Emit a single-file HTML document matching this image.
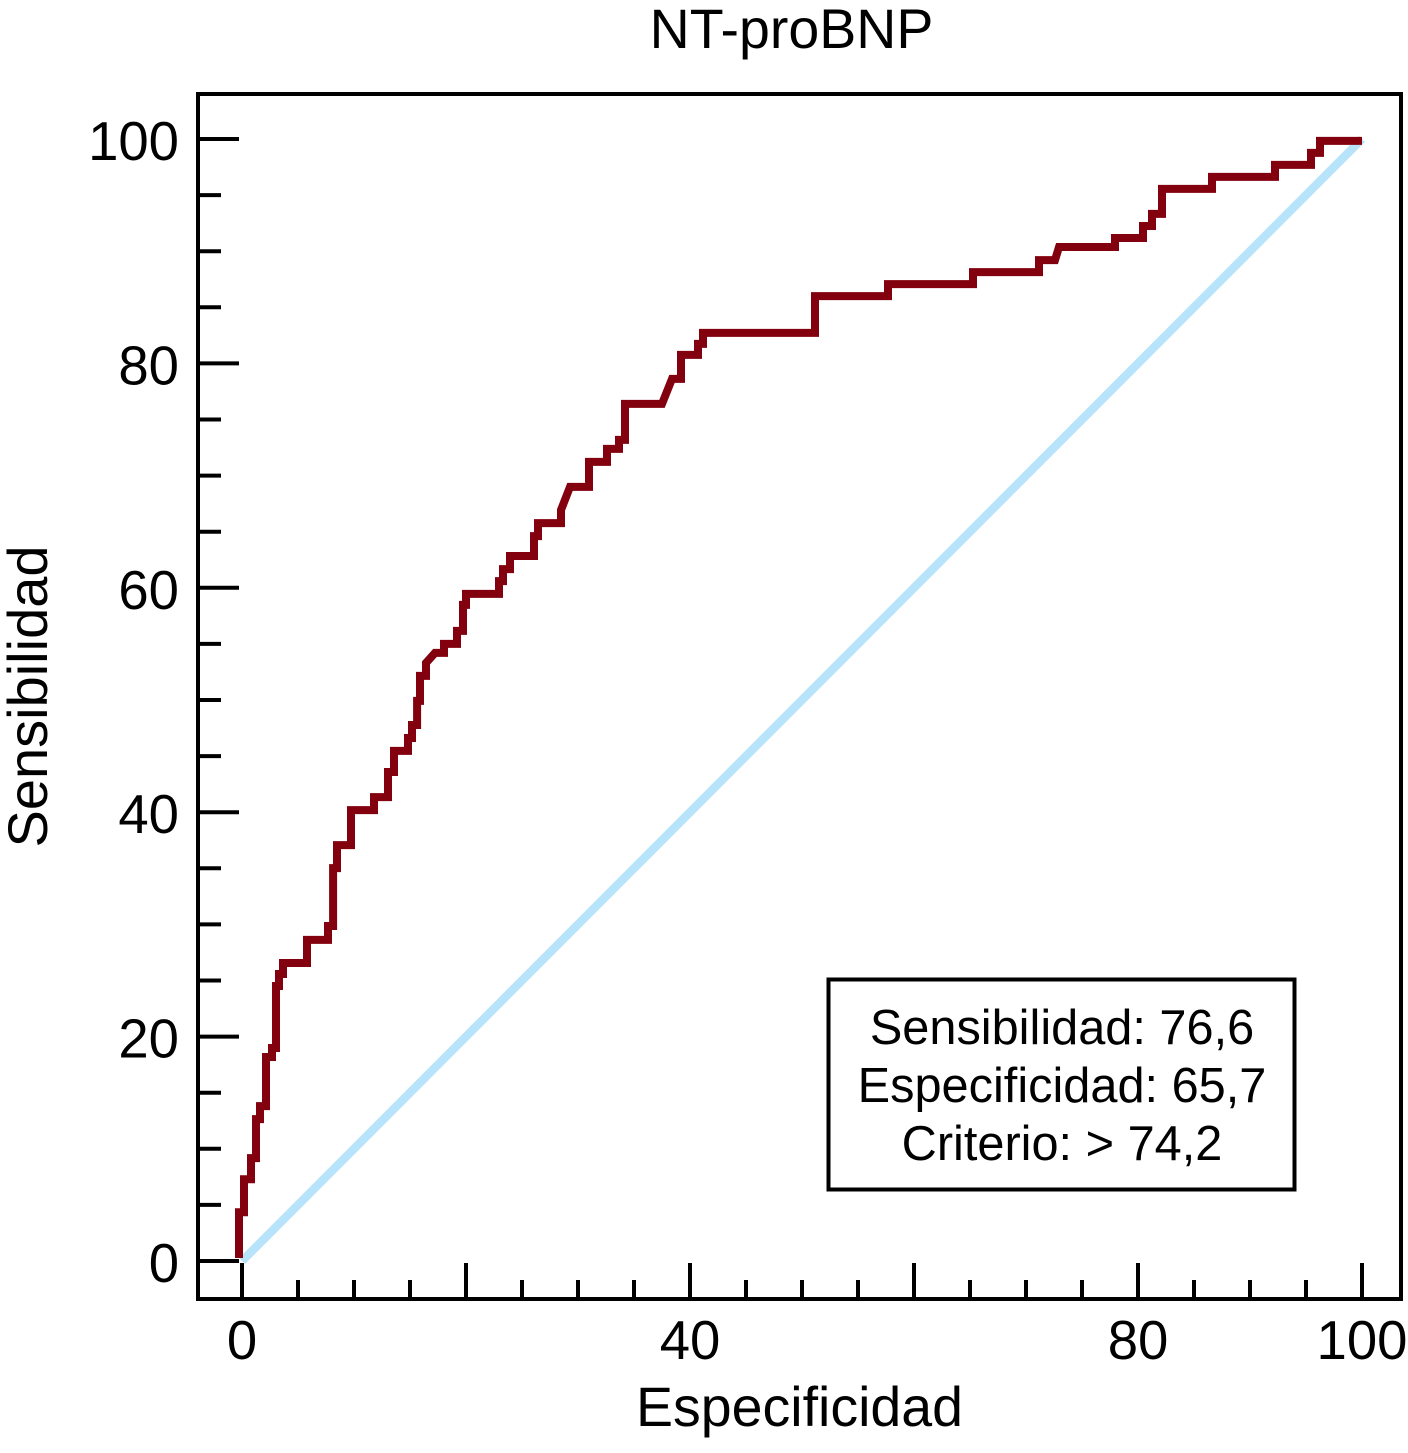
<!DOCTYPE html>
<html lang="es">
<head>
<meta charset="utf-8">
<title>NT-proBNP</title>
<style>
html,body{margin:0;padding:0;background:#fff;width:1408px;height:1453px;overflow:hidden}
svg{display:block}
text{font-family:"Liberation Sans",Arial,sans-serif;fill:#000}
</style>
</head>
<body>
<svg id="chart" xmlns="http://www.w3.org/2000/svg" width="1408" height="1453" viewBox="0 0 1408 1453">
  <text x="791.5" y="48" font-size="55.5" text-anchor="middle">NT-proBNP</text>
  <text x="799.5" y="1426" font-size="55.5" text-anchor="middle">Especificidad</text>
  <text transform="translate(47 696.5) rotate(-90)" font-size="56" text-anchor="middle">Sensibilidad</text>
  <g id="ticks"></g>
  <g id="tick-labels"></g>
  <polyline id="reference-line" fill="none" stroke="#b8e4fb" stroke-width="8.5"></polyline>
  <polyline id="roc-line" fill="none" stroke="#83000f" stroke-width="8" stroke-linejoin="miter" stroke-miterlimit="3"></polyline>
  <rect x="198" y="94" width="1203" height="1205" fill="none" stroke="#000" stroke-width="4"></rect>
  <g>
    <rect x="828.5" y="979.5" width="466" height="210" fill="#fff" stroke="#000" stroke-width="4"></rect>
    <text x="1062" y="1044" font-size="48.7" text-anchor="middle">Sensibilidad: 76,6</text>
    <text x="1062" y="1102" font-size="48.7" text-anchor="middle">Especificidad: 65,7</text>
    <text x="1062" y="1160" font-size="48.7" text-anchor="middle">Criterio: &gt; 74,2</text>
  </g>
</svg>
<script>
const specificity = [-0.27,-0.27,0.18,0.18,0.80,0.80,1.25,1.25,1.61,1.61,2.14,2.14,2.68,2.68,3.04,3.04,3.30,3.30,3.66,3.66,5.80,5.80,7.68,7.68,8.13,8.13,8.48,8.48,9.73,9.73,11.79,11.79,13.04,13.04,13.57,13.57,14.82,14.82,15.18,15.18,15.63,15.63,15.89,15.89,16.43,16.43,17.23,18.04,18.04,19.20,19.20,19.73,19.73,20.00,20.00,22.95,22.95,23.30,23.30,23.93,23.93,26.07,26.07,26.43,26.43,28.48,28.48,29.29,30.98,30.98,32.59,32.59,33.66,33.66,34.20,34.20,37.50,38.39,39.20,39.20,40.71,40.71,41.16,41.16,51.16,51.16,57.68,57.68,65.27,65.27,71.16,71.16,72.59,72.95,77.95,77.95,80.45,80.45,81.25,81.25,82.14,82.14,86.61,86.61,92.23,92.23,95.45,95.45,96.25,96.25,100];
const sensitivity = [0.27,4.35,4.35,7.29,7.29,9.17,9.17,12.65,12.65,13.81,13.81,18.18,18.18,18.98,18.98,24.51,24.51,25.58,25.58,26.56,26.56,28.62,28.62,29.86,29.86,35.02,35.02,37.07,37.07,40.19,40.19,41.35,41.35,43.58,43.58,45.46,45.46,46.61,46.61,47.77,47.77,49.92,49.92,52.15,52.15,53.31,54.20,54.20,55.00,55.00,56.16,56.16,58.48,58.48,59.46,59.46,60.60,60.60,61.67,61.67,62.83,62.83,64.61,64.61,65.77,65.77,66.93,68.99,68.99,71.22,71.22,72.38,72.38,73.18,73.18,76.39,76.39,78.62,78.62,80.76,80.76,81.74,81.74,82.72,82.72,86.00,86.00,87.07,87.07,88.14,88.14,89.21,89.21,90.37,90.37,91.18,91.18,92.25,92.25,93.32,93.32,95.55,95.55,96.62,96.62,97.69,97.69,98.76,98.76,99.83,99.83];
const referenceX = [0,100];
const referenceY = [0,100];
const xMajorTicks = [0,20,40,60,80,100];
const xMinorTicks = [5,10,15,25,30,35,45,50,55,65,70,75,85,90,95];
const yMajorTicks = [0,20,40,60,80,100];
const yMinorTicks = [5,10,15,25,30,35,45,50,55,65,70,75,85,90,95];
const xTickLabels = [0,40,80,100];
const yTickLabels = [0,20,40,60,80,100];

const NS = 'http://www.w3.org/2000/svg';
const xScale = v => 242 + v * 11.2;
const yScale = v => 1261 - v * 11.22;

function toPoints(xs, ys) {
  return xs.map((v, i) => xScale(v).toFixed(1) + ',' + yScale(ys[i]).toFixed(1)).join(' ');
}
document.getElementById('roc-line').setAttribute('points', toPoints(specificity, sensitivity));
document.getElementById('reference-line').setAttribute('points', toPoints(referenceX, referenceY));

const tickGroup = document.getElementById('ticks');
function addTick(x1, y1, x2, y2, name) {
  const el = document.createElementNS(NS, 'line');
  
  
  el.setAttribute('x1', x1);
  el.setAttribute('y1', y1);
  el.setAttribute('x2', x2);
  el.setAttribute('y2', y2);
  el.setAttribute('stroke', '#000');
  el.setAttribute('stroke-width', '4');
  tickGroup.appendChild(el);
}
xMajorTicks.forEach(v => addTick(xScale(v), 1299, xScale(v), 1263, 'x-major-tick'));
xMinorTicks.forEach(v => addTick(xScale(v), 1299, xScale(v), 1280, 'x-minor-tick'));
yMajorTicks.forEach(v => addTick(198, yScale(v), 239, yScale(v), 'y-major-tick'));
yMinorTicks.forEach(v => addTick(198, yScale(v), 221, yScale(v), 'y-minor-tick'));

const labelGroup = document.getElementById('tick-labels');
function addLabel(x, y, anchor, value, name) {
  const el = document.createElementNS(NS, 'text');
  
  
  el.setAttribute('x', x);
  el.setAttribute('y', y);
  el.setAttribute('text-anchor', anchor);
  el.setAttribute('font-size', '54.5');
  el.textContent = value;
  labelGroup.appendChild(el);
}
xTickLabels.forEach(v => addLabel(xScale(v), 1359, 'middle', v, 'x-tick-label'));
yTickLabels.forEach(v => addLabel(179, yScale(v) + 21, 'end', v, 'y-tick-label'));
</script>
</body>
</html>
